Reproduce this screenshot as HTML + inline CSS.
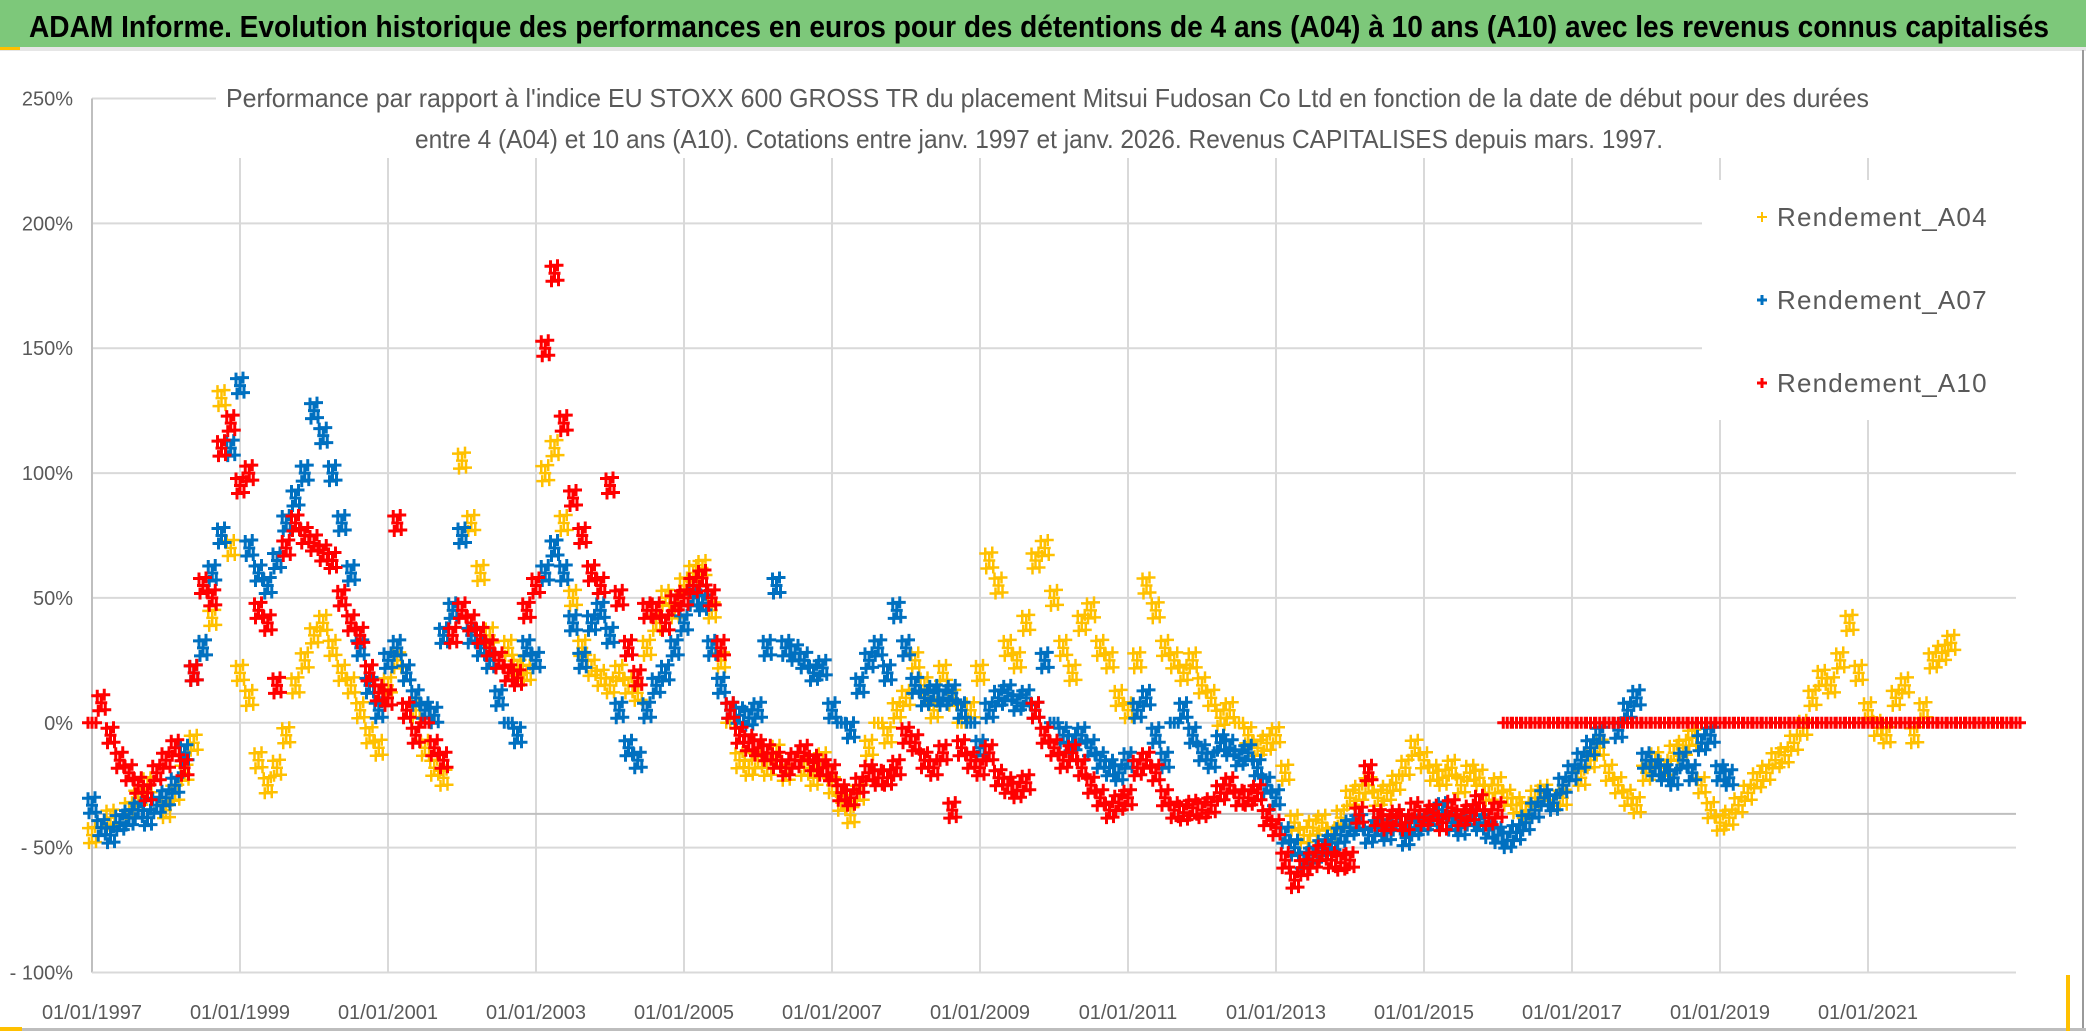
<!DOCTYPE html>
<html><head><meta charset="utf-8"><style>
html,body{margin:0;padding:0;background:#fff;}
svg{display:block;}
</style></head><body>
<svg id="chart" width="2086" height="1031" viewBox="0 0 2086 1031" xmlns="http://www.w3.org/2000/svg" font-family="'Liberation Sans', sans-serif">
<rect x="0" y="0" width="2086" height="1031" fill="#fff"/>
<rect x="0" y="0" width="2086" height="47" fill="#7dc87a"/>
<rect x="0" y="47" width="2086" height="4" fill="#e6e6e6"/>
<rect x="0" y="47" width="20" height="3" fill="#ffc000"/>
<text x="29" y="37" font-size="31" font-weight="bold" fill="#000" textLength="2020" lengthAdjust="spacingAndGlyphs">ADAM Informe. Evolution historique des performances en euros pour des détentions de 4 ans (A04) à 10 ans (A10) avec les revenus connus capitalisés</text>
<g id="grid"></g>
<rect x="1702" y="180" width="314" height="240" fill="#fff"/>
<text x="226" y="107" font-size="26" fill="#595959" textLength="1643" lengthAdjust="spacingAndGlyphs">Performance par rapport à l'indice EU STOXX 600 GROSS TR  du placement Mitsui Fudosan Co Ltd en fonction de la date de début pour des durées</text>
<text x="415" y="148" font-size="26" fill="#595959" textLength="1248" lengthAdjust="spacingAndGlyphs">entre 4 (A04) et 10 ans (A10). Cotations entre janv. 1997 et janv. 2026. Revenus CAPITALISES depuis mars. 1997.</text>
<g id="axes"></g>
<g id="marks"></g>
<g id="legend">
  <g>
    <path d="M1757 217h10M1762 212v10" stroke="#ffc000" stroke-width="2"/>
    <text x="1777" y="226" font-size="26" fill="#595959" letter-spacing="1.2">Rendement_A04</text>
  </g>
  <g>
    <path d="M1757 300h10M1762 295v10" stroke="#0070c0" stroke-width="3"/>
    <text x="1777" y="309" font-size="26" fill="#595959" letter-spacing="1.2">Rendement_A07</text>
  </g>
  <g>
    <path d="M1757 383h10M1762 378v10" stroke="#ff0000" stroke-width="3"/>
    <text x="1777" y="392" font-size="26" fill="#595959" letter-spacing="1.2">Rendement_A10</text>
  </g>
</g>
<rect x="2082" y="50" width="2" height="981" fill="#9a9a9a"/>
<rect x="0" y="1028" width="2086" height="3" fill="#bdbdbd"/>
<rect x="0" y="1027" width="22" height="4" fill="#ffc000"/>
<rect x="2066" y="975" width="4" height="56" fill="#ffc000"/>
</svg>
<script>
const yTickValues = [250, 200, 150, 100, 50, 0, -50, -100];
const yTickLabels = ["250%", "200%", "150%", "100%", "50%", "0%", "- 50%", "- 100%"];
const xTickYears = [1997, 1999, 2001, 2003, 2005, 2007, 2009, 2011, 2013, 2015, 2017, 2019, 2021];
const xTickLabels = ["01/01/1997","01/01/1999","01/01/2001","01/01/2003","01/01/2005","01/01/2007","01/01/2009","01/01/2011","01/01/2013","01/01/2015","01/01/2017","01/01/2019","01/01/2021"];
const seriesStart = 1997;
const seriesStep = 0.125;
const a04Values = [
-45,-42,-38,-40,-35,-30,-25,-33,
-35,-28,-20,-8,30,42,130,70,
20,10,-15,-25,-18,-5,15,25,
35,40,30,20,15,5,-5,-10,
15,25,20,5,-10,-18,-22,45,
105,80,60,35,25,30,22,20,
55,100,110,80,50,30,22,18,
15,20,15,12,30,40,50,45,
55,60,62,45,25,0,-15,-18,
-15,-18,-12,-20,-15,-18,-22,-15,
-25,-32,-37,-28,-10,0,-5,5,
10,25,15,5,20,10,0,5,
20,65,55,30,25,40,65,70,
50,30,20,40,45,30,25,10,
5,25,55,45,30,25,20,25,
15,10,2,5,0,-5,-10,-8,
-5,-20,-40,-45,-42,-40,-45,-38,
-30,-28,-25,-30,-28,-24,-18,-10,
-15,-20,-22,-18,-25,-20,-22,-28,
-25,-30,-33,-35,-30,-28,-32,-30,
-20,-22,-15,-10,-20,-25,-30,-33,
-20,-15,-18,-12,-10,-6,-25,-35,
-40,-38,-33,-28,-23,-20,-15,-13,
-8,-2,10,18,15,25,40,20,
5,-2,-5,10,15,-5,5,25,
28,32,0,0,0,0,0,0,
0];
const a07Values = [
-33,-42,-45,-40,-38,-35,-38,-33,
-30,-25,-12,20,30,60,75,110,
135,70,60,55,65,80,90,100,
125,115,100,80,60,30,15,5,
25,30,20,10,5,3,35,45,
75,35,30,25,10,0,-5,30,
25,60,70,60,40,25,40,45,
35,5,-10,-15,5,15,20,30,
40,50,48,30,15,5,3,2,
5,30,55,30,28,25,20,22,
5,0,-3,15,25,30,20,45,
30,15,10,12,10,12,5,0,
-10,5,10,12,8,10,5,25,
0,-5,-8,-5,-10,-15,-18,-20,
-15,5,10,-5,-15,0,5,-5,
-12,-15,-8,-10,-14,-12,-18,-25,
-30,-45,-50,-55,-53,-50,-48,-45,
-42,-40,-45,-42,-44,-40,-46,-42,
-40,-38,-35,-40,-42,-38,-40,-43,
-45,-47,-44,-40,-35,-30,-32,-25,
-20,-15,-10,-5,0,-3,5,10,
-15,-18,-20,-22,-15,-20,-8,-5,
-20,-22];
const a10Values = [
0,8,-5,-15,-20,-25,-28,-20,
-15,-10,-18,20,55,50,110,120,
95,100,45,40,15,70,80,75,
72,68,65,50,40,35,20,12,
10,80,5,-5,0,-10,-15,35,
45,40,35,30,25,20,18,45,
55,150,180,120,90,75,60,55,
95,50,30,18,45,45,40,48,
50,55,58,50,30,5,-5,-8,
-10,-12,-15,-18,-15,-12,-16,-18,
-20,-28,-30,-25,-20,-22,-22,-18,
-5,-8,-15,-18,-12,-35,-10,-15,
-18,-12,-22,-25,-27,-24,5,-5,
-10,-15,-12,-18,-25,-30,-35,-32,
-30,-18,-15,-20,-30,-35,-36,-34,
-35,-33,-28,-25,-30,-30,-28,-38,
-42,-55,-63,-58,-55,-52,-55,-56,
-55,-37,-20,-38,-40,-38,-40,-35,
-38,-36,-40,-34,-38,-36,-32,-38,
-35,0,0,0,0,0,0,0,
0,0,0,0,0,0,0,0,
0,0,0,0,0,0,0,0,
0,0,0,0,0,0,0,0,
0,0,0,0,0,0,0,0,
0,0,0,0,0,0,0,0,
0,0,0,0,0,0,0,0,
0];
const refLineValue = -36.5;

const NS = "http://www.w3.org/2000/svg";
const X0 = 92, X1 = 2016, YMIN = -100, YMAX = 250, YTOP = 98.5, YBOT = 972.5;
const yearMin = 1997, yearMax = 2023;
function xScale(yr){ return X0 + (yr - yearMin) / (yearMax - yearMin) * (X1 - X0); }
function yScale(v){ return YBOT - (v - YMIN) / (YMAX - YMIN) * (YBOT - YTOP); }
function mk(tag, attrs, parent){ const e = document.createElementNS(NS, tag); for (const k in attrs) e.setAttribute(k, attrs[k]); parent.appendChild(e); return e; }

const grid = document.getElementById('grid');
const axes = document.getElementById('axes');
const marks = document.getElementById('marks');

yTickValues.forEach((v, i) => {
  const y = yScale(v);
  const x2 = v === 250 ? 216 : X1;
  const gl = mk('line', {x1: X0, x2: x2, y1: y, y2: y, stroke: '#d9d9d9', 'stroke-width': 2}, grid);
  
  
  const t = mk('text', {x: 73, y: y + 7, 'font-size': 20, fill: '#595959', 'text-anchor': 'end'}, axes);
  t.textContent = yTickLabels[i];
  
  
});
xTickYears.forEach((yr, i) => {
  const x = xScale(yr);
  if (i > 0) {
    const gl = mk('line', {x1: x, x2: x, y1: 158, y2: YBOT, stroke: '#d9d9d9', 'stroke-width': 2}, grid);
    
    
  }
  const t = mk('text', {x: x, y: 1019, 'font-size': 20, fill: '#595959', 'text-anchor': 'middle'}, axes);
  t.textContent = xTickLabels[i];
  
  
});
const yAxis = mk('line', {x1: X0, x2: X0, y1: YTOP, y2: YBOT, stroke: '#bfbfbf', 'stroke-width': 2}, grid);


const xAxis = mk('line', {x1: X0, x2: X1, y1: YBOT, y2: YBOT, stroke: '#d9d9d9', 'stroke-width': 2}, grid);


const ref = mk('line', {x1: X0, x2: X1, y1: yScale(refLineValue), y2: yScale(refLineValue), stroke: '#bfbfbf', 'stroke-width': 2}, axes);



// each data point is rendered as a small cluster of "+" markers (visual style only)
const clusterOffsets = [[0,0],[-4,-7],[4,7],[-3,8],[3,-8]];
function drawSeries(values, color, name, sw){
  const g = mk('g', {}, marks);
  
  
  let d = '';
  values.forEach((v, i) => {
    const x = xScale(seriesStart + i * seriesStep);
    const y = yScale(v);
    const offs = v === 0 ? [[0,0],[-4,0],[4,0]] : clusterOffsets;
    offs.forEach(o => {
      const cx = x + o[0], cy = y + o[1];
      d += 'M' + (cx - 6) + ' ' + cy + 'h12M' + cx + ' ' + (cy - 6) + 'v12';
    });
  });
  const p = mk('path', {d: d, stroke: color, 'stroke-width': sw, fill: 'none'}, g);
  
  
}
drawSeries(a04Values, '#ffc000', 'series-a04', 2.5);
drawSeries(a07Values, '#0070c0', 'series-a07', 3);
drawSeries(a10Values, '#ff0000', 'series-a10', 3);
</script>
</body></html>
